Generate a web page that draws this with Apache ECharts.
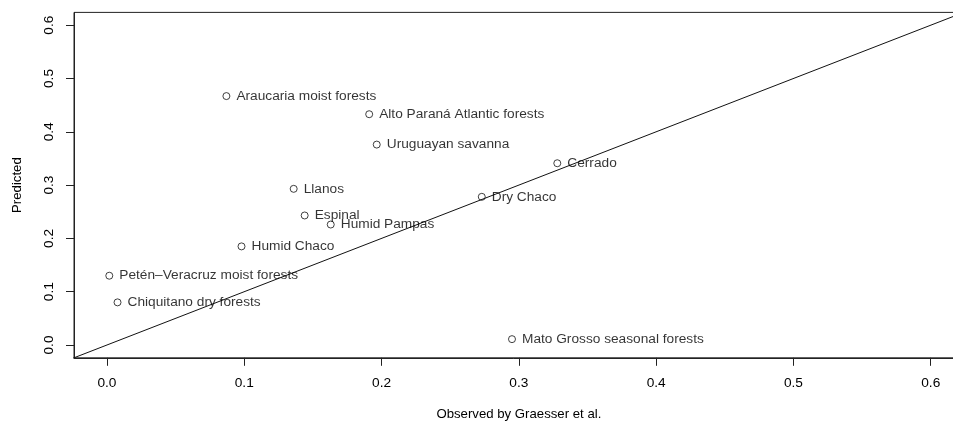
<!DOCTYPE html>
<html>
<head>
<meta charset="utf-8">
<script src="https://cdn.jsdelivr.net/npm/echarts@6/dist/echarts.min.js"></script>
<style>
html,body{margin:0;padding:0;background:#fff;}
#chart{width:953px;height:426px;}
</style>
</head>
<body>
<div id="chart"></div>
<script>
const ecoregions = ["Araucaria moist forests","Alto Paraná Atlantic forests","Uruguayan savanna","Cerrado","Llanos","Dry Chaco","Espinal","Humid Pampas","Humid Chaco","Petén\u2013Veracruz moist forests","Chiquitano dry forests","Mato Grosso seasonal forests"];
const observed  = [0.087, 0.191, 0.1965, 0.328, 0.136, 0.273, 0.144, 0.163, 0.098, 0.0017, 0.0077, 0.295];
const predicted = [0.467, 0.433, 0.376, 0.341, 0.293, 0.278, 0.243, 0.226, 0.185, 0.130, 0.080, 0.011];
const tickValues = [0, 0.1, 0.2, 0.3, 0.4, 0.5, 0.6];
const identityLine = [[-1, -1], [1, 1]];
const axisMin = -0.024, axisMax = 0.624;

const FONT = '"Liberation Sans", Arial, Helvetica, sans-serif';
const FS = 13.7;
const chart = echarts.init(document.getElementById('chart'));
const pts = observed.map((x, i) => ({ value: [x, predicted[i]], name: ecoregions[i] }));

function axisCommon(name) {
  return {
    type: 'value',
    min: axisMin, max: axisMax,
    name: name,
    nameLocation: 'middle',
    nameTextStyle: { color: '#000', fontSize: 13.2, fontFamily: FONT },
    splitLine: { show: false },
    axisLine: { show: true, onZero: false, lineStyle: { color: '#222', width: 1 } },
    axisTick: { show: true, inside: false, length: 8, customValues: tickValues, lineStyle: { color: '#222', width: 1 } },
    axisLabel: { show: true, customValues: tickValues, color: '#000', fontSize: FS, fontFamily: FONT, formatter: v => v.toFixed(1) }
  };
}

const xA = axisCommon('Observed by Graesser et al.');
xA.nameGap = 50;
xA.axisLabel.margin = 18;
const yA = axisCommon('Predicted');
yA.nameGap = 50;
yA.nameRotate = 90;
yA.axisLabel.rotate = 90;
yA.axisLabel.margin = 18;

chart.setOption({
  animation: false,
  backgroundColor: '#fff',
  grid: { left: 74, top: 12.4, width: 889.7, height: 345.4, outerBoundsMode: 'none', containLabel: false, show: true, borderColor: '#222', borderWidth: 1, backgroundColor: 'transparent' },
  xAxis: xA,
  yAxis: yA,
  series: [
    {
      type: 'line',
      data: identityLine,
      symbol: 'none',
      clip: true,
      lineStyle: { color: '#111', width: 1 },
      silent: true,
      z: 1
    },
    {
      type: 'scatter',
      data: pts,
      symbol: 'circle',
      symbolSize: 7,
      itemStyle: { color: 'rgba(255,255,255,0)', borderColor: '#111', borderWidth: 1 },
      label: {
        show: true, position: 'right', distance: 6,
        formatter: p => p.name,
        color: '#000', fontSize: FS, fontFamily: FONT
      },
      z: 2
    }
  ]
});
</script>
</body>
</html>
